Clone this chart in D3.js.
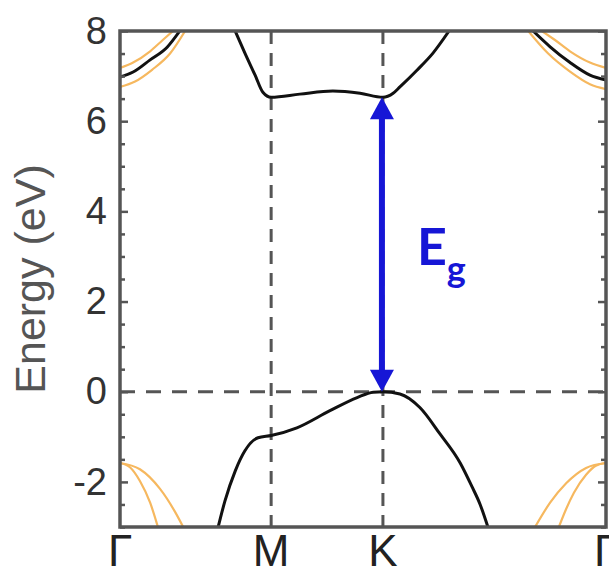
<!DOCTYPE html>
<html>
<head>
<meta charset="utf-8">
<script src="https://cdn.jsdelivr.net/npm/d3@7"></script>
<style>
  body { margin: 0; background: #fff; }
  svg { display: block; }
</style>
</head>
<body>
<script>
// k-path positions (fraction of path) and labels
const kLabels = ["Γ", "M", "K", "Γ"];
const kPos = [0, 0.311, 0.541, 1];
const energyTicks = [-2, 0, 2, 4, 6, 8];
const gapValue = 6.53; // conduction band minimum at K

// black bands: [k, E]
const conduction = [[0.237, 8], [0.257, 7.51], [0.278, 7.02], [0.294, 6.64], [0.311, 6.53],
  [0.370, 6.6], [0.438, 6.67], [0.494, 6.62], [0.541, 6.53], [0.562, 6.62], [0.576, 6.76],
  [0.611, 7.13], [0.644, 7.51], [0.677, 8]];
const valence = [[0.202, -3], [0.216, -2.42], [0.237, -1.76], [0.257, -1.31], [0.284, -1.02],
  [0.311, -0.97], [0.364, -0.8], [0.432, -0.42], [0.488, -0.13], [0.521, -0.01], [0.541, 0],
  [0.576, -0.05], [0.617, -0.35], [0.658, -0.93], [0.700, -1.58], [0.724, -2.1], [0.741, -2.5],
  [0.757, -3]];
const topLeftBlack = [[0, 6.98], [0.027, 7.09], [0.062, 7.36], [0.097, 7.64], [0.123, 8]];
const topRightBlack = [[0.850, 8], [0.885, 7.65], [0.926, 7.3], [0.967, 7.02], [1, 6.91]];

// orange bands
const topLeftUpper = [[0, 7.18], [0.027, 7.3], [0.062, 7.55], [0.088, 7.8], [0.109, 8]];
const topLeftLower = [[0, 6.76], [0.031, 6.88], [0.066, 7.14], [0.103, 7.5], [0.134, 8]];
const topRightUpper = [[0.868, 8], [0.895, 7.8], [0.926, 7.55], [0.967, 7.3], [1, 7.18]];
const topRightLower = [[0.840, 8], [0.881, 7.5], [0.926, 7.1], [0.967, 6.82], [1, 6.71]];
const botLeftSteep = [[0, -1.58], [0.021, -1.68], [0.041, -1.98], [0.062, -2.46], [0.078, -3]];
const botLeftWide = [[0, -1.58], [0.041, -1.72], [0.082, -2.15], [0.113, -2.66], [0.130, -3]];
const botRightWide = [[0.854, -3], [0.885, -2.46], [0.918, -2.03], [0.959, -1.69], [1, -1.58]];
const botRightSteep = [[0.903, -3], [0.918, -2.6], [0.934, -2.24], [0.959, -1.84], [0.979, -1.64], [1, -1.58]];

const blackBands = [conduction, valence, topLeftBlack, topRightBlack];
const orangeBands = [topLeftUpper, topLeftLower, topRightUpper, topRightLower,
  botLeftSteep, botLeftWide, botRightWide, botRightSteep];

const width = 609;
const height = 576;
const margin = {top: 31, right: 3, bottom: 49, left: 120};
const innerW = width - margin.left - margin.right;
const innerH = height - margin.top - margin.bottom;

const svg = d3.select("body").append("svg")
  .attr("width", width)
  .attr("height", height);

const x = d3.scaleLinear().domain([0, 1]).range([0, innerW]);
const y = d3.scaleLinear().domain([-3, 8]).range([innerH, 0]);

const g = svg.append("g").attr("transform", `translate(${margin.left},${margin.top})`);

g.append("clipPath").attr("id", "plot-clip")
  .append("rect").attr("width", innerW).attr("height", innerH);

const axisColor = "#555";

// dashed guides
g.selectAll(".vguide")
  .data(kPos.slice(1, 3))
  .enter().append("line")
  .attr("x1", d => x(d)).attr("x2", d => x(d))
  .attr("y1", 0).attr("y2", innerH)
  .style("stroke", axisColor).style("stroke-width", 3)
  .style("stroke-dasharray", "13,9");

g.append("line")
  .attr("x1", 0).attr("x2", innerW)
  .attr("y1", y(0)).attr("y2", y(0))
  .style("stroke", axisColor).style("stroke-width", 3)
  .style("stroke-dasharray", "15,11");

const line = d3.line()
  .x(d => x(d[0]))
  .y(d => y(d[1]))
  .curve(d3.curveMonotoneX);

const bands = g.append("g").attr("clip-path", "url(#plot-clip)");

bands.selectAll(".orange")
  .data(orangeBands)
  .enter().append("path")
  .attr("d", line)
  .style("fill", "none")
  .style("stroke", "#f6b85f")
  .style("stroke-width", 2.2);

bands.selectAll(".black")
  .data(blackBands)
  .enter().append("path")
  .attr("d", line)
  .style("fill", "none")
  .style("stroke", "#111")
  .style("stroke-width", 3);

// axes: inward ticks, major every 2, minor every 0.5
const minorTicks = d3.range(-3, 8.01, 0.5).filter(v => energyTicks.indexOf(v) < 0);

const yAxis = g.append("g")
  .call(d3.axisLeft(y).tickValues(energyTicks).tickSize(-8).tickPadding(13)
    .tickFormat(d => String(d)));
yAxis.select(".domain").remove();
yAxis.selectAll("line").style("stroke", axisColor).style("stroke-width", 2.5);
yAxis.selectAll("text")
  .style("font-family", "'Liberation Sans', Arial, sans-serif")
  .style("font-size", "38px")
  .style("fill", "#333");

g.append("g")
  .call(d3.axisLeft(y).tickValues(minorTicks).tickSize(-5).tickFormat(""))
  .call(a => a.select(".domain").remove())
  .selectAll("line").style("stroke", axisColor).style("stroke-width", 2.5);

g.append("g")
  .attr("transform", `translate(${innerW},0)`)
  .call(d3.axisRight(y).tickValues(energyTicks).tickSize(-8).tickFormat(""))
  .call(a => a.select(".domain").remove())
  .selectAll("line").style("stroke", axisColor).style("stroke-width", 2.5);

g.append("g")
  .attr("transform", `translate(${innerW},0)`)
  .call(d3.axisRight(y).tickValues(minorTicks).tickSize(-5).tickFormat(""))
  .call(a => a.select(".domain").remove())
  .selectAll("line").style("stroke", axisColor).style("stroke-width", 2.5);

// frame
g.append("rect")
  .attr("width", innerW).attr("height", innerH)
  .style("fill", "none")
  .style("stroke", axisColor)
  .style("stroke-width", 3.5);

// k-point labels
g.selectAll(".klabel")
  .data(kLabels)
  .enter().append("text")
  .attr("x", (d, i) => x(kPos[i]))
  .attr("y", innerH + 39)
  .attr("text-anchor", "middle")
  .style("font-family", "'Liberation Sans', Arial, sans-serif")
  .style("font-size", "44px")
  .style("fill", "#222")
  .text(d => d);

// y title
svg.append("text")
  .attr("transform", `translate(45,${margin.top + innerH / 2}) rotate(-90)`)
  .attr("text-anchor", "middle")
  .style("font-family", "'Liberation Sans', Arial, sans-serif")
  .style("font-size", "43px")
  .style("fill", "#555")
  .text("Energy (eV)");

// band gap arrow
const blue = "#1616d6";
const ax = x(kPos[2]) - 1;
const headW = 12, headL = 22;
g.append("line")
  .attr("x1", ax).attr("x2", ax)
  .attr("y1", y(0) - headL + 2).attr("y2", y(gapValue) + headL - 2)
  .style("stroke", blue).style("stroke-width", 6);
g.append("path")
  .attr("d", `M${ax},${y(gapValue)} L${ax - headW},${y(gapValue) + headL} L${ax + headW},${y(gapValue) + headL} Z`)
  .style("fill", blue);
g.append("path")
  .attr("d", `M${ax},${y(0)} L${ax - headW},${y(0) - headL} L${ax + headW},${y(0) - headL} Z`)
  .style("fill", blue);

const eg = g.append("text")
  .attr("x", ax + 35)
  .attr("y", y(2.8))
  .style("font-family", "Lato, 'Open Sans', sans-serif")
  .style("font-weight", "bold")
  .style("font-size", "52px")
  .style("fill", blue);
eg.append("tspan").text("E");
eg.append("tspan")
  .attr("dy", 17)
  .style("font-size", "36px")
  .text("g");
</script>
</body>
</html>
